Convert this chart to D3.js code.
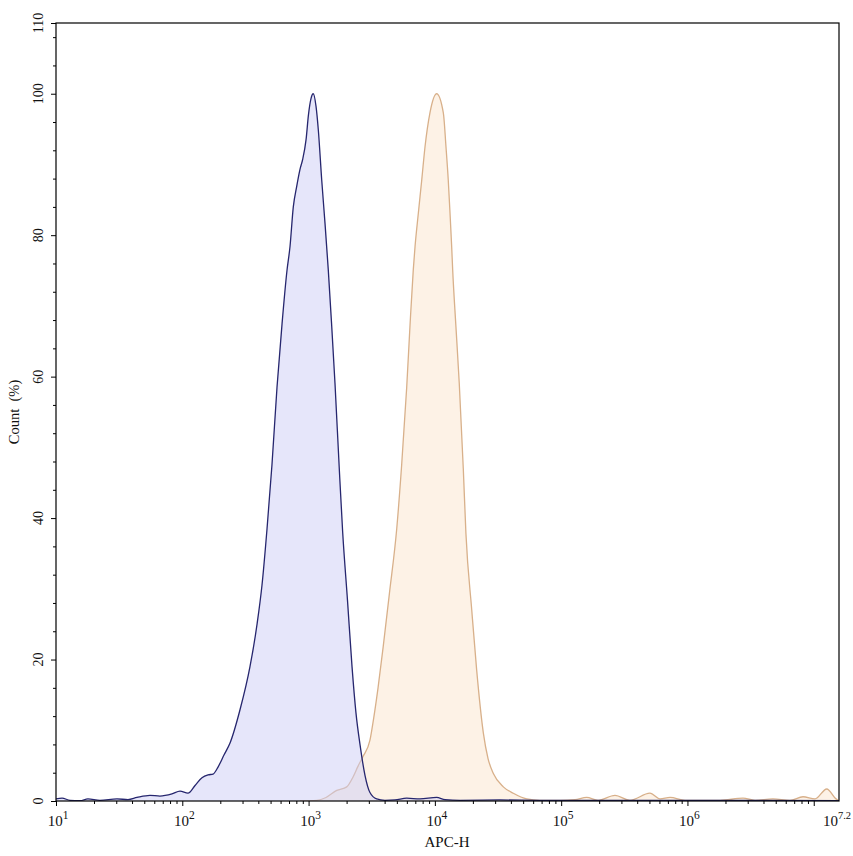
<!DOCTYPE html>
<html>
<head>
<meta charset="utf-8">
<script src="https://cdn.jsdelivr.net/npm/d3@7/dist/d3.min.js"></script>
<style>
  html, body { margin: 0; padding: 0; background: #ffffff; }
  svg { display: block; }
  text { font-family: "Liberation Serif", "Times New Roman", serif; fill: #111; }
</style>
</head>
<body>
<svg id="chart" width="853" height="856"></svg>
<script>
// ---- data: log10(APC-H) and Count (%) ----
const controlLogX = [1.000,1.048,1.111,1.190,1.253,1.348,1.483,1.570,1.641,1.744,1.823,1.918,1.982,2.045,2.101,2.156,2.204,2.243,2.283,2.330,2.378,2.457,2.536,2.592,2.631,2.671,2.710,2.750,2.790,2.829,2.853,2.879,2.906,2.932,2.953,2.980,2.999,3.019,3.037,3.059,3.077,3.104,3.130,3.156,3.183,3.209,3.243,3.270,3.308,3.344,3.375,3.407,3.447,3.486,3.539,3.605,3.684,3.777,3.882,4.014,4.080,4.199,4.516,4.832,5.308,6.099,7.200];
const controlCount = [0.3,0.4,0.1,0.05,0.3,0.1,0.3,0.2,0.5,0.8,0.7,1.0,1.4,1.1,2.2,3.3,3.7,3.8,4.8,6.5,8.2,12.9,19.0,25.0,30.5,38.5,47.5,58.5,67.5,75.0,78.4,84.0,86.9,89.3,90.7,93.5,97.0,99.3,100,98.2,94.9,87.8,81.7,75.1,67.2,59.1,47.0,38.0,28.4,19.0,12.5,8.0,3.6,1.2,0.3,0.1,0.15,0.4,0.3,0.5,0.2,0.1,0.15,0.1,0.1,0.1,0.05];

const stainedLogX = [2.932,3.064,3.138,3.223,3.302,3.352,3.391,3.431,3.486,3.518,3.550,3.592,3.641,3.698,3.737,3.777,3.803,3.829,3.843,3.869,3.896,3.922,3.961,4.014,4.067,4.088,4.106,4.120,4.133,4.141,4.167,4.193,4.225,4.246,4.292,4.331,4.384,4.421,4.463,4.542,4.621,4.727,4.832,4.991,5.110,5.202,5.292,5.426,5.545,5.703,5.783,5.862,5.981,6.258,6.440,6.535,6.677,6.812,6.915,7.010,7.103,7.176,7.200];
const stainedCount = [0,0.1,0.5,1.5,2.0,3.4,4.9,6.3,8.6,12.0,16.0,22.0,29.5,38.5,47.5,58.5,67.2,75.1,78.4,83.1,87.8,92.5,97.3,100,97.3,92.5,87.8,83.1,78.4,75.1,67.0,59.1,47.0,37.8,27.0,18.5,9.6,6.0,3.9,2.0,1.1,0.3,0.1,0.1,0.2,0.5,0.1,0.8,0.1,1.1,0.3,0.5,0.1,0.1,0.4,0.1,0.3,0.1,0.6,0.3,1.7,0.3,0];

const xMajorExponents = [1,2,3,4,5,6];
const xEndExponent = 7.2;
const yMajorTicks = [0,20,40,60,80,100,110];
const xTitle = "APC-H";
const yTitle = "Count  (%)";

// ---- layout ----
const mLeft = 56, mRight = 839, mTop = 23, mBottom = 801;
const svg = d3.select("#chart");

const x = d3.scaleLog().domain([10, Math.pow(10, xEndExponent)]).range([mLeft, mRight]);
const y = d3.scaleLinear().domain([0, 110]).range([mBottom, mTop]);

const control = controlLogX.map((lx, i) => ({x: Math.pow(10, lx), y: controlCount[i]}));
const stained = stainedLogX.map((lx, i) => ({x: Math.pow(10, lx), y: stainedCount[i]}));

const area = d3.area().x(d => x(d.x)).y0(y(0)).y1(d => y(d.y)).curve(d3.curveMonotoneX);
const line = d3.line().x(d => x(d.x)).y(d => y(d.y)).curve(d3.curveMonotoneX);

svg.append("defs").append("clipPath").attr("id", "clip")
  .append("rect").attr("x", mLeft).attr("y", mTop).attr("width", mRight - mLeft).attr("height", mBottom - mTop);

const plot = svg.append("g").attr("clip-path", "url(#clip)");

plot.append("path").datum(stained).attr("d", area)
  .attr("fill", "rgb(250,222,190)").attr("fill-opacity", 0.38);
plot.append("path").datum(stained).attr("d", line)
  .attr("fill", "none").attr("stroke", "#d8b08a").attr("stroke-width", 1.3);

plot.append("path").datum(control).attr("d", area)
  .attr("fill", "rgb(205,205,245)").attr("fill-opacity", 0.5);
plot.append("path").datum(control).attr("d", line)
  .attr("fill", "none").attr("stroke", "#26266e").attr("stroke-width", 1.3);

// ---- frame ----
svg.append("rect").attr("x", mLeft).attr("y", mTop).attr("width", mRight - mLeft).attr("height", mBottom - mTop)
  .attr("fill", "none").attr("stroke", "#000").attr("stroke-width", 1.2);

// ---- x axis ticks ----
const xMinor = [];
for (let e = 1; e <= 7; e++) {
  for (let m = 2; m <= 9; m++) {
    const v = m * Math.pow(10, e);
    if (v < Math.pow(10, xEndExponent)) xMinor.push(v);
  }
}
const xMajorVals = xMajorExponents.map(e => Math.pow(10, e)).concat([1e7]);
const xAxisMinor = d3.axisBottom(x).tickValues(xMinor).tickSize(3).tickFormat("");
const xAxisMajor = d3.axisBottom(x).tickValues(xMajorVals).tickSize(5).tickFormat("");
[xAxisMinor, xAxisMajor].forEach(ax => {
  const g = svg.append("g").attr("transform", `translate(0,${mBottom})`).call(ax);
  g.select(".domain").remove();
  g.selectAll("line").attr("stroke", "#000").attr("stroke-width", 1);
});

const xLabelExps = xMajorExponents.concat([xEndExponent]);
const xl = svg.append("g").attr("font-size", 15);
xLabelExps.forEach(e => {
  const isEnd = e === xEndExponent;
  const t = xl.append("text")
    .attr("x", isEnd ? 851 : x(Math.pow(10, e)) + 2)
    .attr("y", 826)
    .attr("text-anchor", isEnd ? "end" : "middle");
  t.append("tspan").text("10");
  t.append("tspan").attr("dy", -7).attr("font-size", isEnd ? 10.5 : 11.5).text(String(e));
});

svg.append("text").attr("x", 447).attr("y", 847).attr("text-anchor", "middle")
  .attr("font-size", 15).text(xTitle);

// ---- y axis ticks ----
const yMinor = d3.range(0, 110, 4).filter(v => v % 20 !== 0);
const yAxisMinor = d3.axisLeft(y).tickValues(yMinor).tickSize(3).tickFormat("");
const yAxisMajor = d3.axisLeft(y).tickValues(yMajorTicks).tickSize(5).tickFormat("");
[yAxisMinor, yAxisMajor].forEach(ax => {
  const g = svg.append("g").attr("transform", `translate(${mLeft},0)`).call(ax);
  g.select(".domain").remove();
  g.selectAll("line").attr("stroke", "#000").attr("stroke-width", 1);
});

svg.append("g").attr("font-size", 14).selectAll("text").data(yMajorTicks).join("text")
  .attr("transform", d => `translate(43,${y(d)}) rotate(-90)`)
  .attr("text-anchor", "middle")
  .text(d => d);

svg.append("text").attr("transform", `translate(19,${(mTop + mBottom) / 2}) rotate(-90)`)
  .attr("text-anchor", "middle").attr("font-size", 14.5).attr("xml:space", "preserve").text(yTitle);
</script>
</body>
</html>
